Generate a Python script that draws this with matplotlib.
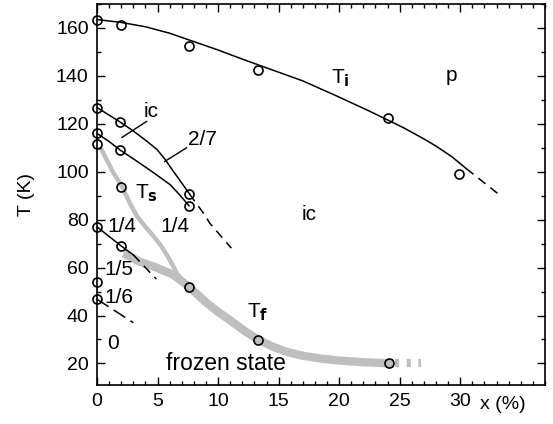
import matplotlib
matplotlib.use("Agg")
import matplotlib.pyplot as plt
from matplotlib.ticker import MultipleLocator

plt.rcParams['font.family'] = ['Liberation Sans', 'DejaVu Sans']

# ---- data ----
# T_i boundary (solid line) and its dashed continuation
ti_line_x = [0, 2, 4, 6, 7.6, 10, 12, 14.3, 17, 19.8, 22.5, 25.3, 27, 28, 29.3, 30.5]
ti_line_T = [163.5, 162.3, 160.5, 157.8, 155, 150.8, 147, 142.8, 137.9, 131.6,
             125.3, 118.4, 113.7, 110.7, 106.3, 101.3]
ti_dash_x = [30.5, 33.2]
ti_dash_T = [101.3, 90.5]
ti_pts_x = [0, 2, 7.6, 13.3, 24, 29.9]
ti_pts_T = [163.5, 161.4, 152.6, 142.4, 122.3, 99.2]

# ic / 2/7 boundary
ic_line_x = [0, 1.92, 3.0, 4.1, 4.95, 5.63, 6.3, 7.0, 7.63]
ic_line_T = [126.8, 120.7, 117, 112.8, 109.3, 105.1, 100.2, 95.3, 90.8]
ic_dash_x = [7.63, 8.08, 8.9, 9.3, 11.1]
ic_dash_T = [90.8, 87.6, 82, 78.6, 68.1]
ic_pts_x = [0, 1.92, 7.63]
ic_pts_T = [126.8, 120.7, 90.8]

# 2/7 / 1/4 boundary
q_line_x = [0, 1, 1.92, 3.0, 4.1, 5.0, 6.04, 6.8, 7.6]
q_line_T = [116, 112.6, 109, 105.4, 101.6, 98.4, 94.6, 90.5, 85.8]
q_pts_x = [0, 1.92, 7.6]
q_pts_T = [116, 109, 85.8]

# 1/4 boundary at low x
b14_line_x = [0, 2, 3.0]
b14_line_T = [77, 69, 65.3]
b14_dash_x = [3.0, 4.9]
b14_dash_T = [65.3, 55.2]
b14_pts_x = [0, 2]
b14_pts_T = [77, 69]

# 1/6 boundary
b16_dash_x = [0, 3.0]
b16_dash_T = [46.8, 37]
b16_pts_x = [0]
b16_pts_T = [46.8]
b15_pts_x = [0]
b15_pts_T = [54]

# Ts (grey band)
ts_band_x = [0.3, 0.8, 1.3, 1.8, 2.1, 2.7, 3.3, 4.0, 4.6, 5.3, 5.8, 6.2, 6.6, 7.2]
ts_band_T = [110, 105, 100, 96, 93.5, 87, 81.5, 77, 73.5, 69, 65, 61.5, 57.5, 54]
ts_pts_x = [0, 2]
ts_pts_T = [111.4, 93.5]

# Tf (grey band)
tf_band_x = [2.2, 3.5, 4.9, 6.3, 7.6, 9.0, 10, 11, 12.2, 13.3, 14.5, 15.7, 17,
             18.5, 20, 22, 24.5]
tf_band_T = [66, 62.5, 60, 57, 52, 45.5, 41.5, 38, 33.5, 30, 27, 24.8, 23.2,
             22, 21.2, 20.5, 20]
tf_dot_x = [24.6, 26.8]
tf_dot_T = [20, 20]
tf_pts_x = [7.6, 13.3, 24.1]
tf_pts_T = [51.8, 29.7, 20]

xticks = [0, 5, 10, 15, 20, 25, 30]
yticks = [20, 40, 60, 80, 100, 120, 140, 160]

# ---- figure ----
fig = plt.figure(figsize=(5.53, 4.24), dpi=100)
ax = fig.add_axes([0.1754, 0.092, 0.8101, 0.8986])

band_c = '#bfbfbf'
ax.plot(tf_band_x, tf_band_T, color=band_c, lw=6, solid_capstyle='butt',
        solid_joinstyle='round', zorder=1)
ax.plot(tf_dot_x, tf_dot_T, color=band_c, lw=6, ls=(0, (0.5, 0.9)), zorder=1)
ax.plot(ts_band_x, ts_band_T, color=band_c, lw=3.2, solid_capstyle='butt',
        solid_joinstyle='round', zorder=1)

lk = dict(color='black', lw=1.1, zorder=2, solid_joinstyle='round')
dk = dict(color='black', lw=1.1, ls=(0, (6, 4)), zorder=2)
ax.plot(ti_line_x, ti_line_T, **lk)
ax.plot(ti_dash_x, ti_dash_T, **dk)
ax.plot(ic_line_x, ic_line_T, **lk)
ax.plot(ic_dash_x, ic_dash_T, **dk)
ax.plot(q_line_x, q_line_T, **lk)
ax.plot(b14_line_x, b14_line_T, **lk)
ax.plot(b14_dash_x, b14_dash_T, **dk)
ax.plot(b16_dash_x, b16_dash_T, color='black', lw=1.1, ls=(0, (9, 4)), zorder=2)

mk = dict(ls='none', marker='o', ms=6.5, mfc='none', mec='black', mew=1.2,
          zorder=3, clip_on=False)
for px, pT in [(ti_pts_x, ti_pts_T), (ic_pts_x, ic_pts_T), (q_pts_x, q_pts_T),
               (b14_pts_x, b14_pts_T), (b16_pts_x, b16_pts_T),
               (b15_pts_x, b15_pts_T), (ts_pts_x, ts_pts_T),
               (tf_pts_x, tf_pts_T)]:
    ax.plot(px, pT, **mk)

# leader lines
ax.plot([2.06, 4.1], [114.3, 121], color='black', lw=1.0)
ax.plot([5.6, 7.4], [104.3, 110], color='black', lw=1.0)

fs = 15
sub = r'$_\mathbf{%s}$'
ax.text(4.5, 125, 'ic', fontsize=fs, ha='center', va='center')
ax.text(8.7, 113.5, '2/7', fontsize=fs, ha='center', va='center')
ax.text(3.1, 91, 'T' + sub % 's', fontsize=fs, ha='left', va='center')
ax.text(0.85, 77, '1/4', fontsize=fs, ha='left', va='center')
ax.text(6.4, 77, '1/4', fontsize=fs, ha='center', va='center')
ax.text(0.6, 59, '1/5', fontsize=fs, ha='left', va='center')
ax.text(0.6, 47.5, '1/6', fontsize=fs, ha='left', va='center')
ax.text(1.3, 28.4, '0', fontsize=fs, ha='center', va='center')
ax.text(12.4, 41.5, 'T' + sub % 'f', fontsize=fs, ha='left', va='center')
ax.text(5.7, 20, 'frozen state', fontsize=16.5, ha='left', va='center')
ax.text(19.3, 139, 'T' + sub % 'i', fontsize=fs, ha='left', va='center')
ax.text(29.3, 140, 'p', fontsize=fs, ha='center', va='center')
ax.text(17.5, 82, 'ic', fontsize=fs, ha='center', va='center')

ax.set_xlim(0, 37)
ax.set_ylim(11, 170)
ax.set_xticks(xticks)
ax.set_yticks(yticks)
ax.xaxis.set_minor_locator(MultipleLocator(1))
ax.yaxis.set_minor_locator(MultipleLocator(10))
ax.tick_params(which='both', direction='in', top=True, right=True,
               labelsize=14, width=1.0)
ax.tick_params(which='major', length=6, pad=6)
ax.tick_params(which='minor', length=3)
for s in ax.spines.values():
    s.set_linewidth(1.2)

ax.set_ylabel('T (K)', fontsize=14, labelpad=15)
ax.text(33.5, -0.03, 'x (%)', fontsize=14, ha='center', va='top',
        transform=ax.get_xaxis_transform())

fig.savefig('out.png', dpi=100)
